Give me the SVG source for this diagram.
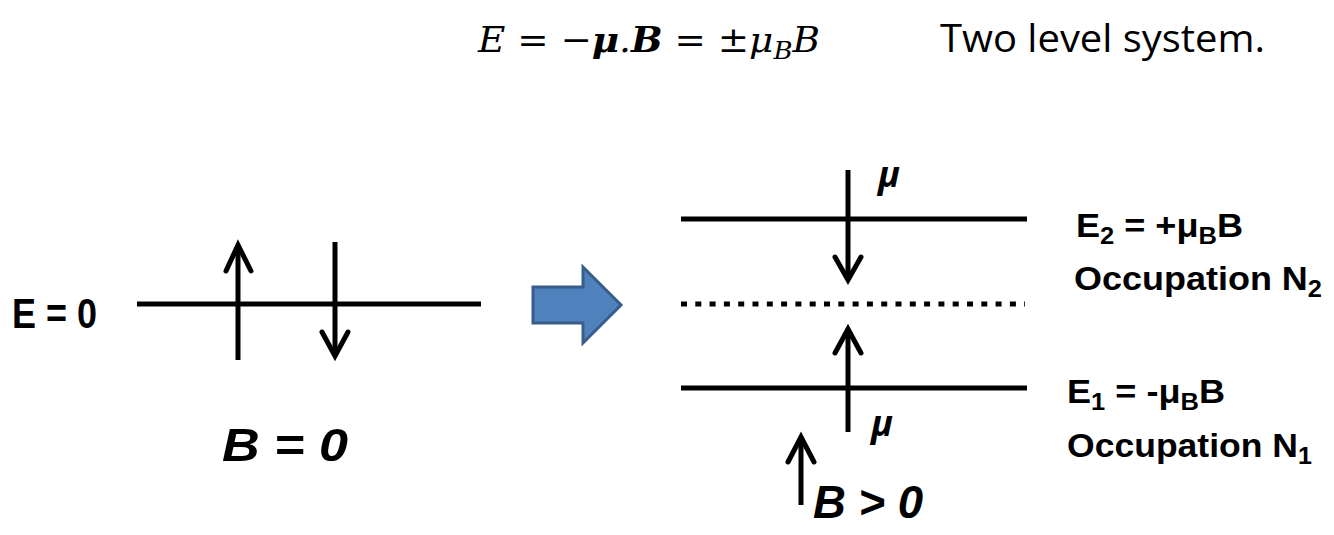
<svg xmlns="http://www.w3.org/2000/svg" width="1334" height="535" viewBox="0 0 1334 535">
<style>
.ln{stroke:#000;stroke-width:5;fill:none;stroke-linecap:butt}
.ar{stroke:#000;stroke-width:5;fill:none;stroke-linecap:round;stroke-linejoin:miter}
.lb{font-family:"Liberation Sans",Arial,sans-serif;font-weight:bold;fill:#000}
.bi{font-family:"Liberation Sans",Arial,sans-serif;font-weight:bold;font-style:italic;fill:#000}
.mu{font-family:"Open Sans","Liberation Sans",sans-serif;font-style:italic;font-weight:bold;fill:#000}
</style>
<rect width="1334" height="535" fill="#fff"/>
<g id="equation">
<text x="478" y="52" font-family="DejaVu Serif,Liberation Serif,serif" font-style="italic" font-size="36" textLength="342" lengthAdjust="spacingAndGlyphs">E = −<tspan font-weight="bold">μ</tspan>.<tspan font-weight="bold">B</tspan> = ±μ<tspan font-size="25" dy="7">B</tspan><tspan dy="-7">B</tspan></text>
</g>
<g id="title">
<text x="940" y="52" font-family="Open Sans,Liberation Sans,sans-serif" font-size="38" textLength="325" lengthAdjust="spacingAndGlyphs">Two level system.</text>
</g>
<g id="left-state">
<text class="lb" x="12" y="328" font-size="42" textLength="85" lengthAdjust="spacingAndGlyphs">E = 0</text>
<line class="ln" x1="137" y1="304" x2="481" y2="304"/>
<line class="ln" x1="238" y1="360" x2="238" y2="245"/>
<polyline class="ar" points="226,271 238,245 251,271"/>
<line class="ln" x1="335" y1="242" x2="335" y2="356"/>
<polyline class="ar" points="322,332 335,356 348,332"/>
<text class="bi" x="222" y="461" font-size="46" textLength="126" lengthAdjust="spacingAndGlyphs">B  = 0</text>
</g>
<g id="transition-arrow">
<polygon points="533,287 583,287 583,267 621,305 583,343 583,323 533,323" fill="#4F81BD" stroke="#385D8A" stroke-width="3" stroke-linejoin="miter"/>
</g>
<g id="right-state">
<line class="ln" x1="681" y1="219" x2="1027" y2="219"/>
<line x1="681" y1="304" x2="1025" y2="304" stroke="#000" stroke-width="5" stroke-dasharray="6 8.3"/>
<line class="ln" x1="681" y1="388" x2="1027" y2="388"/>
<line class="ln" x1="848" y1="170" x2="848" y2="280"/>
<polyline class="ar" points="835,257 848,280 861,257"/>
<line class="ln" x1="848" y1="432" x2="848" y2="329"/>
<polyline class="ar" points="835,353 848,329 861,353"/>
<text class="mu" x="878" y="187" font-size="36">μ</text>
<text class="mu" x="871" y="436" font-size="36">μ</text>
<line class="ln" x1="801" y1="505" x2="801" y2="437"/>
<polyline class="ar" points="788,462 801,437 814,462"/>
<text class="bi" x="813" y="518" font-size="46" textLength="110" lengthAdjust="spacingAndGlyphs">B &gt; 0</text>
</g>
<g id="labels">
<text class="lb" x="1076" y="237" font-size="34" textLength="167" lengthAdjust="spacingAndGlyphs">E<tspan font-size="24" dy="7">2</tspan><tspan dy="-7"> = +μ</tspan><tspan font-size="24" dy="7">B</tspan><tspan dy="-7">B</tspan></text>
<text class="lb" x="1074" y="290" font-size="34" textLength="248" lengthAdjust="spacingAndGlyphs">Occupation N<tspan font-size="24" dy="7">2</tspan></text>
<text class="lb" x="1067" y="403" font-size="34" textLength="158" lengthAdjust="spacingAndGlyphs">E<tspan font-size="24" dy="7">1</tspan><tspan dy="-7"> = -μ</tspan><tspan font-size="24" dy="7">B</tspan><tspan dy="-7">B</tspan></text>
<text class="lb" x="1067" y="457" font-size="34" textLength="245" lengthAdjust="spacingAndGlyphs">Occupation N<tspan font-size="24" dy="7">1</tspan></text>
</g>
</svg>
